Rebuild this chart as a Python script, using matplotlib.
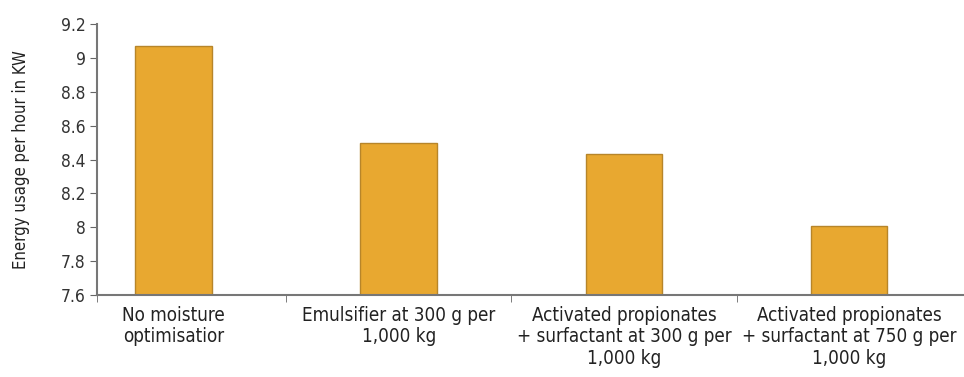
import matplotlib.pyplot as plt
from matplotlib.ticker import FixedLocator

categories = ["No moisture\noptimisatior",
              "Emulsifier at 300 g per\n1,000 kg",
              "Activated propionates\n+ surfactant at 300 g per\n1,000 kg",
              "Activated propionates\n+ surfactant at 750 g per\n1,000 kg"]
energy = [9.07, 8.50, 8.43, 8.01]
yticks = [7.6, 7.8, 8, 8.2, 8.4, 8.6, 8.8, 9, 9.2]
ytick_labels = ["7.6", "7.8", "8", "8.2", "8.4", "8.6", "8.8", "9", "9.2"]

plt.rcParams['font.family'] = ['DejaVu Sans']
plt.rcParams['font.stretch'] = 'condensed'

fig = plt.figure(figsize=(9.64, 3.77), dpi=100)
ax = fig.add_axes([0.1006, 0.2175, 0.8994, 0.7185])

x = list(range(len(categories)))
ax.bar(x, [v - 7.6 for v in energy], bottom=7.6, width=0.34,
       color="#E8A830", edgecolor="#B7852A", linewidth=1.0, zorder=2)

ax.set_xlim(-0.34, 3.51)
ax.set_ylim(7.6, 9.2)
ax.set_yticks(yticks)
ax.set_yticklabels(ytick_labels, fontsize=12.5, color="#333333")
ax.set_xticks(x)
ax.set_xticklabels(categories, fontsize=13.5, color="#222222", linespacing=1.15)
ax.tick_params(axis="x", which="major", length=0, pad=8)
ax.xaxis.set_minor_locator(FixedLocator([-0.34, 0.5, 1.5, 2.5]))
ax.tick_params(axis="x", which="minor", length=5, color="#666666", direction="out")
ax.tick_params(axis="y", length=5, color="#666666", pad=3)

ax.set_ylabel("Energy usage per hour in KW", fontsize=12, color="#222222", labelpad=22)

for s in ["top", "right"]:
    ax.spines[s].set_visible(False)
for s in ["left", "bottom"]:
    ax.spines[s].set_color("#777777")
    ax.spines[s].set_linewidth(1.5)

fig.savefig("out.png", dpi=100)
